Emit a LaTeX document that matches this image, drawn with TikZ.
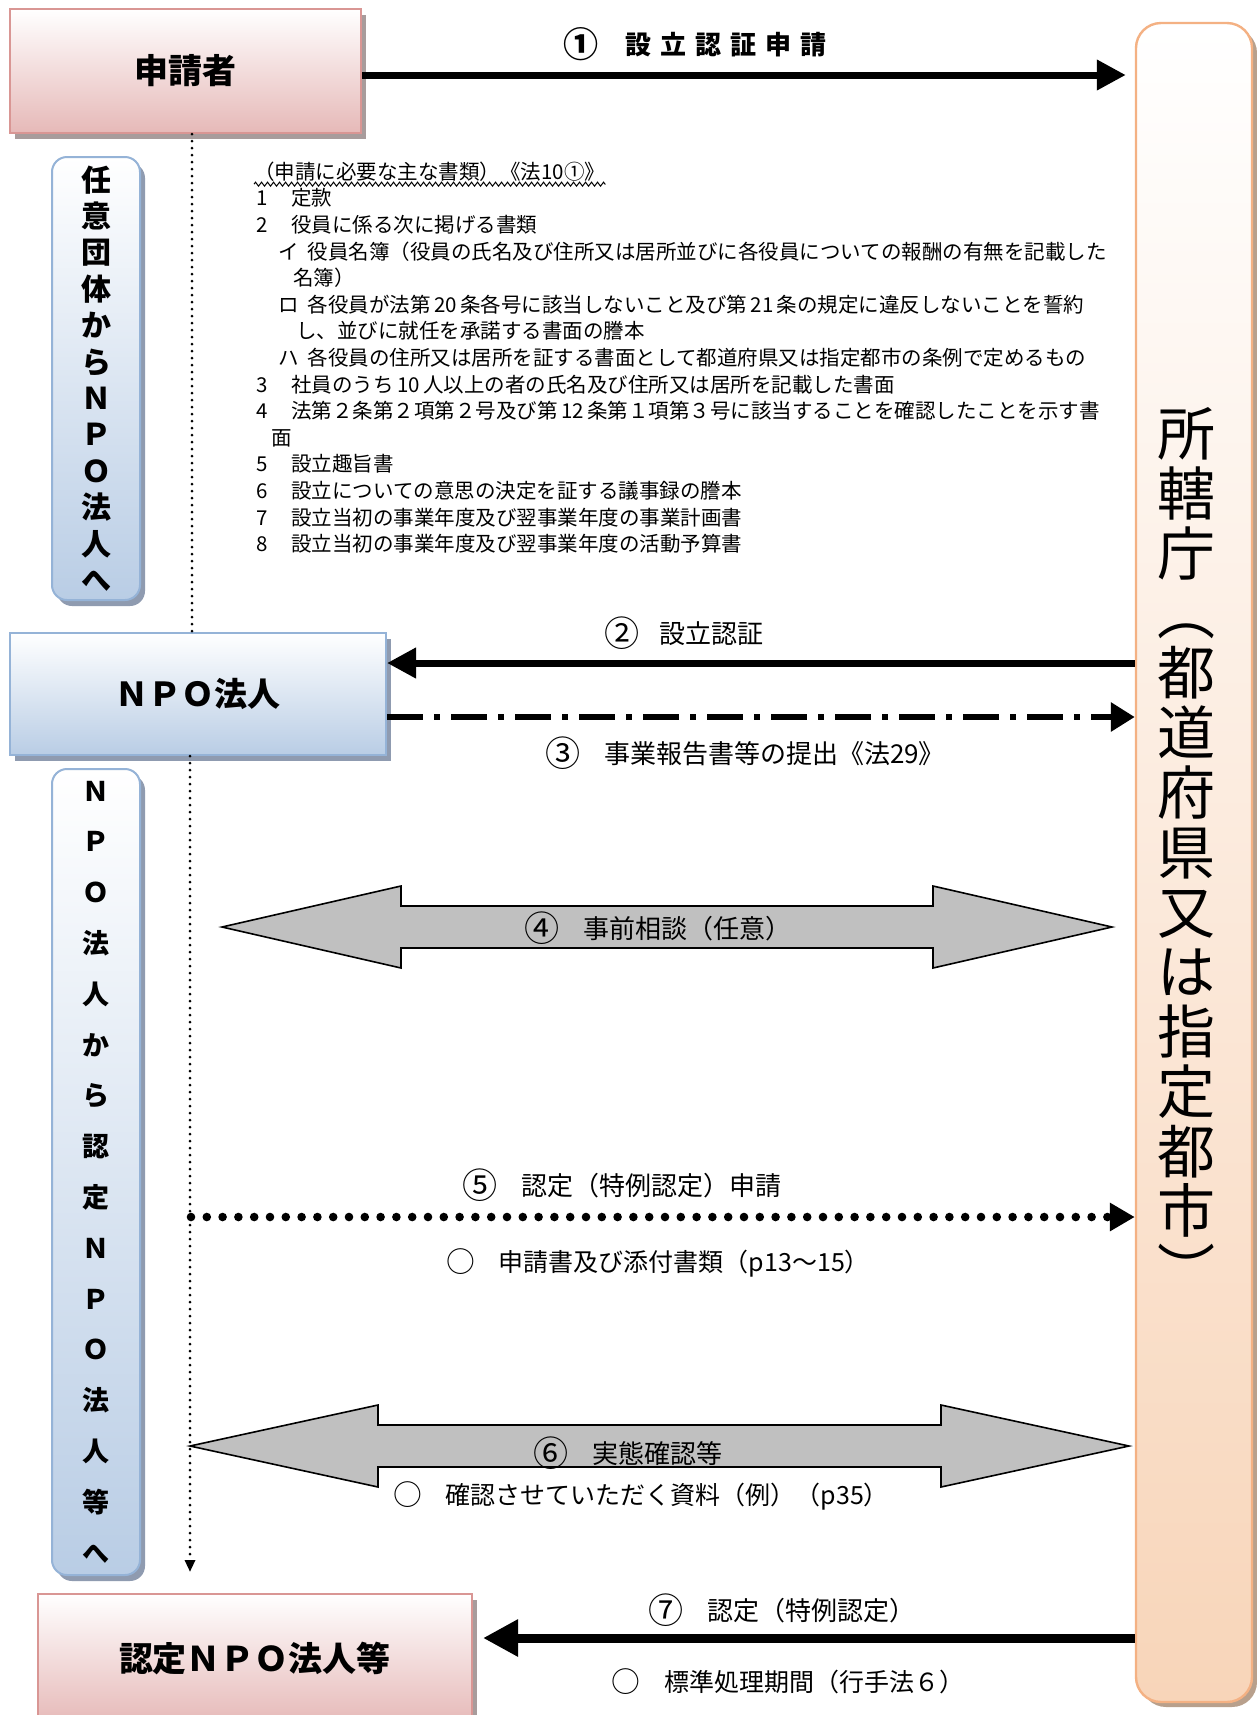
\documentclass[tikz,border=0pt]{standalone}
\usepackage{fontspec}
\setmainfont{Noto Sans CJK JP}
\usetikzlibrary{positioning,arrows.meta,shadows,decorations.pathmorphing}

\definecolor{pinkedge}{HTML}{D99694}
\definecolor{pinkfill}{HTML}{E6B9B8}
\definecolor{pinkshade}{HTML}{A89C9C}
\definecolor{blueedge}{HTML}{95B3D7}
\definecolor{bluefill}{HTML}{B9CDE5}
\definecolor{blueshade}{HTML}{8F9BB0}
\definecolor{peachedge}{HTML}{F4B183}
\definecolor{peachfill}{HTML}{F8D5B9}
\definecolor{peachshade}{HTML}{B8A08C}
\definecolor{arrowgray}{HTML}{C0C0C0}

\newcommand{\docfont}{\fontsize{10.25pt}{13.3pt}\selectfont}
\newcommand{\docnum}[1]{\makebox[1.7em][l]{#1}}
\newcommand{\stepnum}[1]{\raisebox{-0.12em}{\scalebox{1.35}{#1}}}
\newcommand{\notemark}{\raisebox{-0.06em}{\scalebox{1.15}{○}}}

\tikzset{pink box/.style={rectangle,draw=pinkedge,line width=1pt,top color=white,bottom color=pinkfill,inner sep=0pt,
            font=\bfseries\fontsize{17pt}{20pt}\selectfont,
            drop shadow={shadow xshift=2.5pt,shadow yshift=-3pt,fill=pinkshade,opacity=1}},
         blue box/.style={rectangle,draw=blueedge,line width=1pt,top color=white,bottom color=bluefill,inner sep=0pt,
            drop shadow={shadow xshift=2.5pt,shadow yshift=-3pt,fill=blueshade,opacity=1}},
         side box/.style={blue box,rounded corners=7.5pt,minimum width=44pt,align=center,
            font=\bfseries\fontsize{15pt}{18.2pt}\selectfont},
         authority box/.style={rectangle,rounded corners=12.5pt,draw=peachedge,line width=1.2pt,top color=white,bottom color=peachfill,
            drop shadow={shadow xshift=2.5pt,shadow yshift=-2.5pt,fill=peachshade,opacity=1}},
         flow arrow/.style={line width=3.5pt,-{Triangle[length=14.5pt,width=14.5pt]}},
         report arrow/.style={line width=3pt,dash pattern=on 18pt off 5.5pt on 3pt off 5.5pt,-{Triangle[length=12pt,width=14pt]}},
         dot arrow/.style={line width=4.3pt,line cap=round,dash pattern=on 0pt off 7.9pt,-{Triangle[length=12.5pt,width=13.5pt]}},
         flow line/.style={line width=1.5pt,line cap=round,dash pattern=on 0pt off 3.5pt},
         wide arrow/.style={draw=black,line width=0.8pt,fill=arrowgray},
         step label/.style={inner sep=0pt,font=\fontsize{13pt}{15pt}\selectfont},
         note label/.style={inner sep=0pt,font=\fontsize{12.5pt}{15pt}\selectfont},
            }

\begin{document}
\begin{tikzpicture}[x=0.5pt,y=-0.5pt]
    \path[use as bounding box,fill=white] (0,0) rectangle (1257,1715);

    % boxes
    \node[pink box,minimum width=175.5pt,minimum height=62pt] (applicant) at (185.5,71) {申請者};
    \node[blue box,minimum width=188pt,minimum height=61pt,font=\bfseries\fontsize{16.5pt}{20pt}\selectfont] (npo) at (198,694) {ＮＰＯ法人};
    \node[pink box,minimum width=217pt,minimum height=65pt] (certified) at (255,1659) {認定ＮＰＯ法人等};
    \node[side box,minimum height=221.5pt] (to npo) at (96,378.5) {任\\意\\団\\体\\か\\ら\\Ｎ\\Ｐ\\Ｏ\\法\\人\\へ};
    \node[side box,minimum height=403pt,font=\bfseries\fontsize{13.5pt}{25.4pt}\selectfont] (to certified) at (96,1172)
        {Ｎ\\Ｐ\\Ｏ\\法\\人\\か\\ら\\認\\定\\Ｎ\\Ｐ\\Ｏ\\法\\人\\等\\へ};
    \node[authority box,minimum width=58pt,minimum height=839.5pt] (authority) at (1194,862.5) {};
    \node[align=center,font=\fontsize{29pt}{29.9pt}\selectfont] (authority name) at (1186,850)
        {所\\轄\\庁\\︵\\都\\道\\府\\県\\又\\は\\指\\定\\都\\市\\︶};

    % documents
    \node[anchor=west,inner sep=0pt,font=\docfont] (doc head) at (254,172) {（申請に必要な主な書類）《法10①》};
    \draw[decorate,decoration={zigzag,amplitude=1pt,segment length=3pt},line width=0.5pt]
        ([yshift=-1pt]doc head.south west) -- ([yshift=-1pt]doc head.south east);
    \node[below right=3pt and 1pt of doc head.south west,inner sep=0pt,align=left,font=\docfont] (doc list) {%
        \docnum{1}定款\\
        \docnum{2}役員に係る次に掲げる書類\\
        \hspace*{1.1em}イ\hspace{0.4em}役員名簿（役員の氏名及び住所又は居所並びに各役員についての報酬の有無を記載した\\
        \hspace*{1.8em}名簿）\\
        \hspace*{1.1em}ロ\hspace{0.4em}各役員が法第\,20\,条各号に該当しないこと及び第\,21\,条の規定に違反しないことを誓約\\
        \hspace*{1.95em}し、並びに就任を承諾する書面の謄本\\
        \hspace*{1.1em}ハ\hspace{0.4em}各役員の住所又は居所を証する書面として都道府県又は指定都市の条例で定めるもの\\
        \docnum{3}社員のうち\,10\,人以上の者の氏名及び住所又は居所を記載した書面\\
        \docnum{4}法第２条第２項第２号及び第\,12\,条第１項第３号に該当することを確認したことを示す書\\
        \hspace*{0.73em}面\\
        \docnum{5}設立趣旨書\\
        \docnum{6}設立についての意思の決定を証する議事録の謄本\\
        \docnum{7}設立当初の事業年度及び翌事業年度の事業計画書\\
        \docnum{8}設立当初の事業年度及び翌事業年度の活動予算書};

    % flow of the applicant
    \coordinate (flow x) at (192,0);
    \coordinate (flow end) at (190,1572);
    \draw[flow line] (applicant.south -| flow x) -- (npo.north -| flow x);
    \draw[flow line,-{Triangle[length=6pt,width=5pt]}] (npo.south -| flow end) -- (flow end);

    % arrows
    \coordinate (apply out) at ([yshift=-2pt]applicant.east);
    \draw[flow arrow,shorten >=4.5pt] (apply out) -- (apply out -| authority.west);
    \coordinate (cert in) at ([yshift=15.5pt]npo.east);
    \draw[flow arrow] (cert in -| authority.west) -- (cert in);
    \coordinate (report out) at ([yshift=-11.5pt]npo.east);
    \draw[report arrow] (report out) -- (report out -| authority.west);
    \coordinate (apply start) at (191,1217);
    \draw[dot arrow] (apply start) -- (apply start -| authority.west);
    \coordinate (grant in) at ([yshift=10.5pt]certified.east);
    \draw[line width=4.5pt,-{Triangle[length=17.5pt,width=17.5pt]},shorten >=5pt] (grant in -| authority.west) -- (grant in);

    \foreach \xa/\xb/\xc/\xd/\ym in {222/401/933/1112/927, 190/378/941/1129/1446}
        \draw[wide arrow] (\xa,\ym) -- (\xb,\ym-41) -- (\xb,\ym-21) -- (\xc,\ym-21) -- (\xc,\ym-41) -- (\xd,\ym)
            -- (\xc,\ym+41) -- (\xc,\ym+21) -- (\xb,\ym+21) -- (\xb,\ym+41) -- cycle;

    % labels
    \node[step label,font=\bfseries\fontsize{13pt}{15pt}\selectfont] (step1) at (695,44)
        {\stepnum{①}\hspace{13pt}設\hspace{4.5pt}立\hspace{4.5pt}認\hspace{4.5pt}証\hspace{4.5pt}申\hspace{4.5pt}請};
    \node[step label] (step2) at (684,633) {\stepnum{②}\hspace{10pt}設立認証};
    \node[step label] (step3) at (745,753) {\stepnum{③}\hspace{12pt}事業報告書等の提出《法29》};
    \node[step label] (step4) at (658,928) {\stepnum{④}\hspace{12pt}事前相談（任意）};
    \node[step label] (step5) at (622,1185) {\stepnum{⑤}\hspace{12pt}認定（特例認定）申請};
    \node[note label] (step5 note) at (658,1263) {\notemark\hspace{12pt}申請書及び添付書類（p13～15）};
    \node[step label] (step6) at (628,1453) {\stepnum{⑥}\hspace{12pt}実態確認等};
    \node[note label] (step6 note) at (641,1496) {\notemark\hspace{12pt}確認させていただく資料（例）（p35）};
    \node[step label] (step7) at (782,1610) {\stepnum{⑦}\hspace{12pt}認定（特例認定）};
    \node[note label] (step7 note) at (788,1682) {\notemark\hspace{12pt}標準処理期間（行手法６）};

\end{tikzpicture}
\end{document}
